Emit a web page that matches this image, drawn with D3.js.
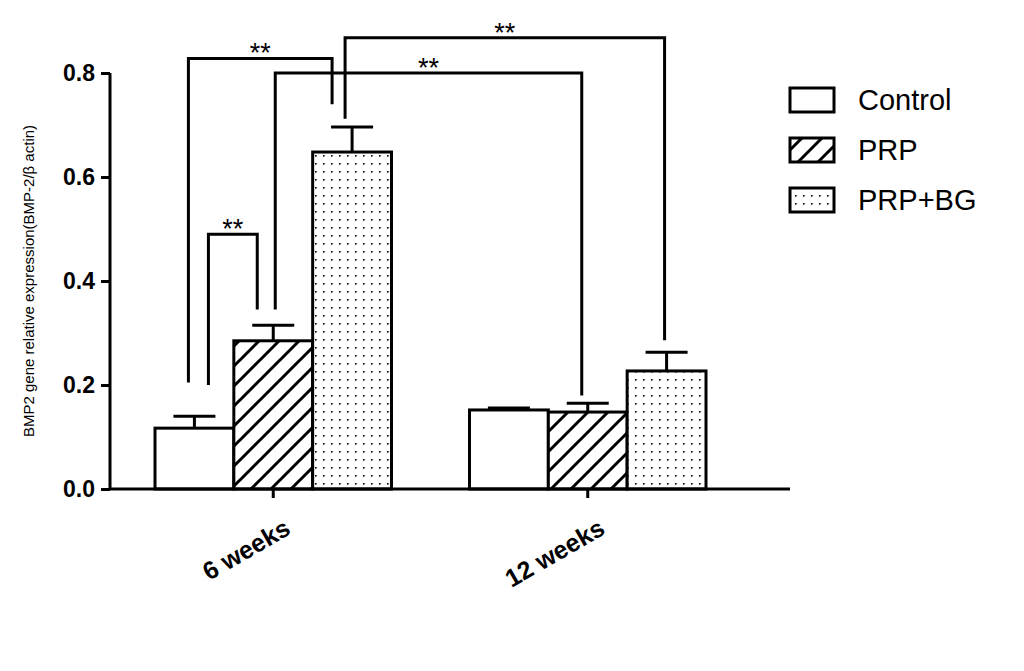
<!DOCTYPE html><html><head><meta charset="utf-8"><script src="https://cdn.jsdelivr.net/npm/d3@7"></script>
<style>body{margin:0;background:#fff}text{font-family:Arial,"Liberation Sans",sans-serif}</style></head><body><svg id="c" width="1024" height="671"></svg><script>
const groups=["6 weeks","12 weeks"];
const series=["Control","PRP","PRP+BG"];
const values=[[0.117,0.285,0.648],[0.152,0.148,0.227]];
const errors=[[0.023,0.030,0.048],[0.004,0.017,0.036]];
const yTicks=[0,0.2,0.4,0.6,0.8];
const sig=[
 {a:[0,0],b:[0,2],la:0.205,lb:0.74,top:0.828},
 {a:[0,1],b:[1,1],la:0.345,lb:0.18,top:0.8},
 {a:[0,2],b:[1,2],la:0.712,lb:0.286,top:0.868},
 {a:[0,0],b:[0,1],la:0.2,lb:0.345,top:0.49}
];
const svg=d3.select("#c");
const y=d3.scaleLinear().domain([0,0.8]).range([489,73]);
const x0=d3.scaleBand().domain(groups).range([155,706]).paddingInner(0.248).paddingOuter(0);
const x1=d3.scaleBand().domain(series).range([0,x0.bandwidth()]);
const defs=svg.append("defs");
const h=defs.append("pattern").attr("id","hatch").attr("patternUnits","userSpaceOnUse").attr("width",20).attr("height",20);
h.append("rect").attr("width",20).attr("height",20).attr("fill","#fff");
h.append("path").attr("d","M-5,5 l10,-10 M0,20 l20,-20 M15,25 l10,-10").attr("stroke","#000").attr("stroke-width",3);
const dp=defs.append("pattern").attr("id","dots").attr("patternUnits","userSpaceOnUse").attr("width",8).attr("height",8);
dp.append("rect").attr("width",8).attr("height",8).attr("fill","#fff");
dp.append("rect").attr("x",3).attr("y",3).attr("width",1.6).attr("height",1.6).attr("fill","#000");
const fills=["#fff","url(#hatch)","url(#dots)"];
const cx=(g,s)=>x0(groups[g])+x1(series[s])+x1.bandwidth()/2;
values.forEach((vs,g)=>vs.forEach((v,s)=>{
 const X=x0(groups[g])+x1(series[s]);
 const e=v+errors[g][s];
 svg.append("line").attr("x1",cx(g,s)).attr("x2",cx(g,s)).attr("y1",y(v)).attr("y2",y(e)).attr("stroke","#000").attr("stroke-width",3);
 svg.append("line").attr("x1",cx(g,s)-21).attr("x2",cx(g,s)+21).attr("y1",y(e)).attr("y2",y(e)).attr("stroke","#000").attr("stroke-width",3);
 svg.append("rect").attr("x",X).attr("y",y(v)).attr("width",x1.bandwidth()).attr("height",y(0)-y(v)).attr("fill",fills[s]).attr("stroke","#000").attr("stroke-width",3);
}));
const ya=svg.append("g").attr("transform","translate(110,0)").call(d3.axisLeft(y).tickValues(yTicks).tickFormat(d3.format(".1f")).tickSize(9).tickPadding(6));
ya.select(".domain").attr("stroke-width",3).attr("d","M0,73V489");
ya.selectAll(".tick line").attr("stroke-width",3);
ya.selectAll("text").attr("font-size",23).attr("font-weight","bold").attr("fill","#000");
const xa=svg.append("g").attr("transform","translate(0,489)").call(d3.axisBottom(x0).tickSize(9).tickFormat(""));
xa.select(".domain").attr("stroke-width",3).attr("d","M110,0H790");
xa.selectAll(".tick line").attr("stroke-width",3);
groups.forEach(gn=>{
 const xc=x0(gn)+x0.bandwidth()/2;
 svg.append("text").attr("transform",`translate(${xc+10},${518}) rotate(-30)`).attr("text-anchor","end").attr("dy","0.7em").attr("font-size",25).attr("font-weight","bold").text(gn);
});
svg.append("text").attr("transform","translate(34,281) rotate(-90)").attr("text-anchor","middle").attr("font-size",15).text("BMP2 gene relative expression(BMP-2/β actin)");
sig.forEach((b,i)=>{
 let xa_=cx(...b.a), xb=cx(...b.b);
 if(i==0){xa_-=6;xb-=20;} if(i==1){xa_+=2;xb-=6;} if(i==2){xa_-=7;xb-=2;} if(i==3){xa_+=14;xb-=16;}
 svg.append("path").attr("d",`M${xa_},${y(b.la)}V${y(b.top)}H${xb}V${y(b.lb)}`).attr("fill","none").attr("stroke","#000").attr("stroke-width",3);
 svg.append("text").attr("x",(xa_+xb)/2).attr("y",y(b.top)+4).attr("text-anchor","middle").attr("font-size",27).text("**");
});
series.forEach((s,i)=>{
 const ly=88+i*50;
 svg.append("rect").attr("x",790).attr("y",ly).attr("width",44).attr("height",24).attr("fill",fills[i]).attr("stroke","#000").attr("stroke-width",3);
 svg.append("text").attr("x",858).attr("y",ly+12).attr("dy","0.36em").attr("font-size",29).text(s);
});
</script></body></html>
